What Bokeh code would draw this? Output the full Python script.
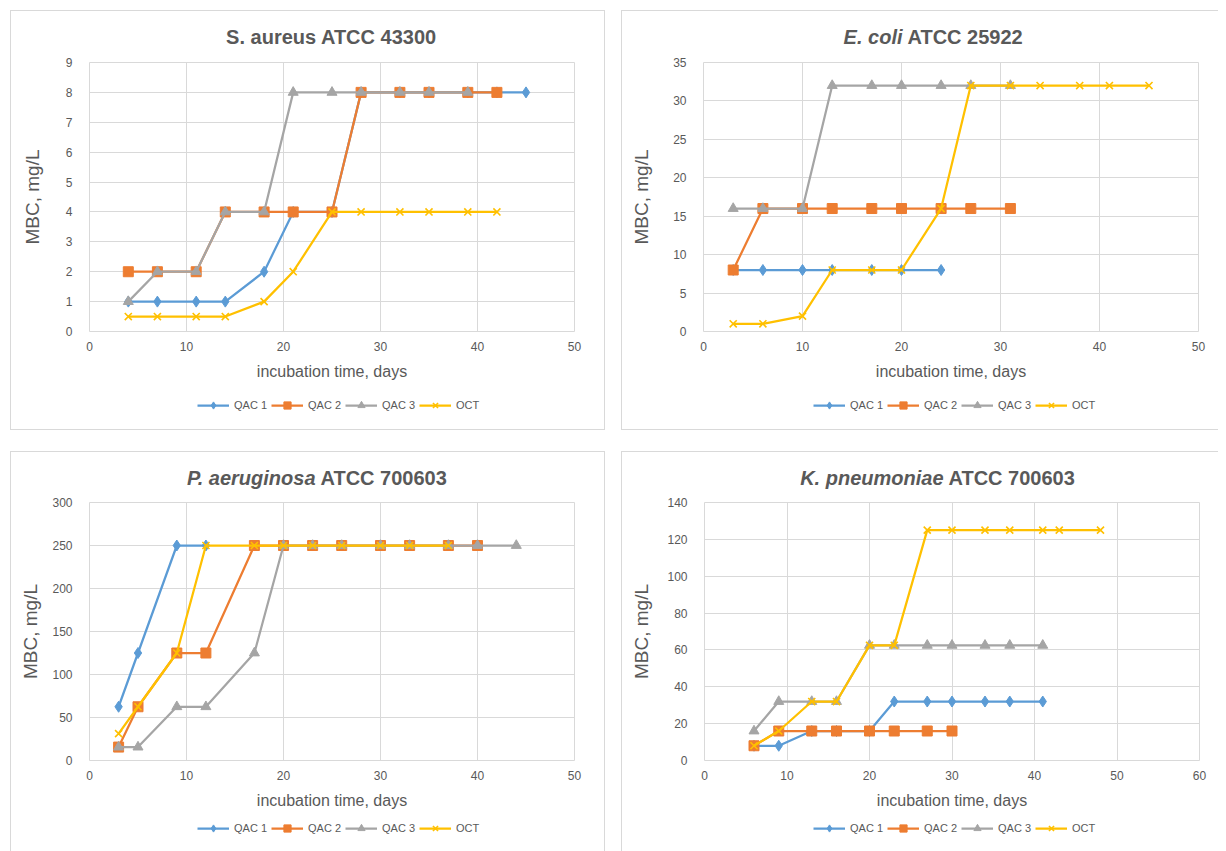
from bokeh.plotting import figure
from bokeh.models import Range1d, Legend, LegendItem, FixedTicker, Spacer
from bokeh.core.properties import value
from bokeh.layouts import row, column
from bokeh.embed import file_html
from bokeh.resources import INLINE

# ---------------- data ----------------
series_names = ["QAC 1", "QAC 2", "QAC 3", "OCT"]

# S. aureus ATCC 43300
sa_q1_days = [4, 7, 11, 14, 18, 21, 25, 28, 32, 35, 39, 42, 45]
sa_q1_mbc = [1, 1, 1, 1, 2, 4, 4, 8, 8, 8, 8, 8, 8]
sa_q2_days = [4, 7, 11, 14, 18, 21, 25, 28, 32, 35, 39, 42]
sa_q2_mbc = [2, 2, 2, 4, 4, 4, 4, 8, 8, 8, 8, 8]
sa_q3_days = [4, 7, 11, 14, 18, 21, 25, 28, 32, 35, 39]
sa_q3_mbc = [1, 2, 2, 4, 4, 8, 8, 8, 8, 8, 8]
sa_oct_days = [4, 7, 11, 14, 18, 21, 25, 28, 32, 35, 39, 42]
sa_oct_mbc = [0.5, 0.5, 0.5, 0.5, 1, 2, 4, 4, 4, 4, 4, 4]

# E. coli ATCC 25922
ec_q1_days = [3, 6, 10, 13, 17, 20, 24]
ec_q1_mbc = [8, 8, 8, 8, 8, 8, 8]
ec_q2_days = [3, 6, 10, 13, 17, 20, 24, 27, 31]
ec_q2_mbc = [8, 16, 16, 16, 16, 16, 16, 16, 16]
ec_q3_days = [3, 6, 10, 13, 17, 20, 24, 27, 31]
ec_q3_mbc = [16, 16, 16, 32, 32, 32, 32, 32, 32]
ec_oct_days = [3, 6, 10, 13, 17, 20, 24, 27, 31, 34, 38, 41, 45]
ec_oct_mbc = [1, 1, 2, 8, 8, 8, 16, 32, 32, 32, 32, 32, 32]

# P. aeruginosa ATCC 700603
pa_q1_days = [3, 5, 9, 12]
pa_q1_mbc = [62.5, 125, 250, 250]
pa_q2_days = [3, 5, 9, 12, 17, 20, 23, 26, 30, 33, 37, 40]
pa_q2_mbc = [15.6, 62.5, 125, 125, 250, 250, 250, 250, 250, 250, 250, 250]
pa_q3_days = [3, 5, 9, 12, 17, 20, 23, 26, 30, 33, 37, 40, 44]
pa_q3_mbc = [15.6, 15.6, 62.5, 62.5, 125, 250, 250, 250, 250, 250, 250, 250, 250]
pa_oct_days = [3, 5, 9, 12, 17, 20, 23, 26, 30, 33, 37]
pa_oct_mbc = [31.25, 62.5, 125, 250, 250, 250, 250, 250, 250, 250, 250]

# K. pneumoniae ATCC 700603
kp_q1_days = [6, 9, 13, 16, 20, 23, 27, 30, 34, 37, 41]
kp_q1_mbc = [8, 8, 16, 16, 16, 32, 32, 32, 32, 32, 32]
kp_q2_days = [6, 9, 13, 16, 20, 23, 27, 30]
kp_q2_mbc = [8, 16, 16, 16, 16, 16, 16, 16]
kp_q3_days = [6, 9, 13, 16, 20, 23, 27, 30, 34, 37, 41]
kp_q3_mbc = [16, 32, 32, 32, 62.5, 62.5, 62.5, 62.5, 62.5, 62.5, 62.5]
kp_oct_days = [6, 9, 13, 16, 20, 23, 27, 30, 34, 37, 41, 43, 48]
kp_oct_mbc = [8, 16, 32, 32, 62.5, 62.5, 125, 125, 125, 125, 125, 125, 125]

sa_x_ticks = [0, 10, 20, 30, 40, 50]
sa_y_ticks = [0, 1, 2, 3, 4, 5, 6, 7, 8, 9]
ec_x_ticks = [0, 10, 20, 30, 40, 50]
ec_y_ticks = [0, 5, 10, 15, 20, 25, 30, 35]
pa_x_ticks = [0, 10, 20, 30, 40, 50]
pa_y_ticks = [0, 50, 100, 150, 200, 250, 300]
kp_x_ticks = [0, 10, 20, 30, 40, 50, 60]
kp_y_ticks = [0, 20, 40, 60, 80, 100, 120, 140]

# ---------------- style ----------------
COLORS = ["#5B9BD5", "#ED7D31", "#A5A5A5", "#FFC000"]
MARKERS = ["diamond", "square", "triangle", "x"]
MSIZE = [11, 10, 10, 10]
GRID = "#D9D9D9"
TXT = "#595959"
FONT = "Liberation Sans"
BL = "1px solid #D9D9D9"
NAN = float("nan")


def css(top=False, left=False, right=False, bottom=False):
    s = {"box-sizing": "border-box"}
    if top:
        s["border-top"] = BL
    if left:
        s["border-left"] = BL
    if right:
        s["border-right"] = BL
    if bottom:
        s["border-bottom"] = BL
    return s


def blank_fig(w, h, fw, styles):
    # frame of this strip is aligned by the column with the chart frame,
    # so x data units here are pixels measured from the chart's left frame edge
    f = figure(width=w, height=h, output_backend="svg", toolbar_location=None,
               x_range=Range1d(0, fw), y_range=Range1d(h, 0),
               x_axis_location=None, y_axis_location=None,
               min_border=0, min_border_left=0, min_border_right=0,
               min_border_top=0, min_border_bottom=0)
    f.grid.visible = False
    f.outline_line_color = None
    f.background_fill_color = "white"
    f.border_fill_color = "white"
    f.styles = styles
    return f


def add_glyphs(p, xs, ys, i):
    c = COLORS[i]
    lr = p.line(xs, ys, line_color=c, line_width=2.25)
    if MARKERS[i] == "x":
        sr = p.scatter(xs, ys, marker="x", size=MSIZE[i], line_color=c,
                       line_width=1.6)
    else:
        sr = p.scatter(xs, ys, marker=MARKERS[i], size=MSIZE[i],
                       fill_color=c, line_color=c, line_width=1)
    return lr, sr


def make_panel(width, height, title_h, fl, fw, fh, main_bottom, xticks, yticks,
               data, title_parts, tx, ylab_standoff, legend_x, legend_cy,
               border_right, border_bottom):
    main_top = 12
    main_h = main_top + fh + main_bottom
    leg_h = height - title_h - main_h

    # ---- title strip ----
    t = blank_fig(width, title_h, fw, css(top=True, left=True, right=border_right))
    ty = 25
    if len(title_parts) == 1:
        t.text(x=[tx], y=[ty], text=[title_parts[0]], text_align="center",
               text_baseline="middle", text_font=value(FONT),
               text_font_size="20px", text_font_style="bold", text_color=TXT)
    else:
        t.text(x=[tx - 2], y=[ty], text=[title_parts[0]], text_align="right",
               text_baseline="middle", text_font=value(FONT),
               text_font_size="20px", text_font_style="bold italic",
               text_color=TXT)
        t.text(x=[tx + 3], y=[ty], text=[title_parts[1]], text_align="left",
               text_baseline="middle", text_font=value(FONT),
               text_font_size="20px", text_font_style="bold", text_color=TXT)

    # ---- main chart ----
    p = figure(width=width, height=main_h, output_backend="svg",
               toolbar_location=None,
               x_range=Range1d(xticks[0], xticks[-1]),
               y_range=Range1d(yticks[0], yticks[-1]),
               min_border_left=fl, min_border_right=width - fl - fw,
               min_border_top=main_top, min_border_bottom=main_bottom)
    p.styles = css(left=True, right=border_right)
    p.outline_line_color = GRID
    p.background_fill_color = "white"
    p.border_fill_color = "white"
    for ax, ticks in ((p.xaxis, xticks), (p.yaxis, yticks)):
        ax.ticker = FixedTicker(ticks=ticks)
        ax.axis_line_color = None
        ax.major_tick_line_color = None
        ax.minor_tick_line_color = None
        ax.major_label_text_font = FONT
        ax.major_label_text_font_size = "12px"
        ax.major_label_text_color = TXT
        ax.axis_label_text_font = FONT
        ax.axis_label_text_font_style = "normal"
        ax.axis_label_text_color = TXT
    p.xaxis.axis_label = "incubation time, days"
    p.xaxis.axis_label_text_font_size = "16px"
    p.xaxis.major_label_standoff = 4
    p.xaxis.axis_label_standoff = 9
    p.yaxis.axis_label = "MBC, mg/L"
    p.yaxis.axis_label_text_font_size = "19px"
    p.yaxis.major_label_standoff = 11
    p.yaxis.axis_label_standoff = ylab_standoff
    p.xgrid.grid_line_color = GRID
    p.ygrid.grid_line_color = GRID
    for i, (xs, ys) in enumerate(data):
        add_glyphs(p, xs, ys, i)

    # ---- legend strip ----
    lg = blank_fig(width, leg_h, fw, css(left=True, right=border_right,
                                         bottom=border_bottom))
    items = []
    for i in range(len(series_names)):
        lr, sr = add_glyphs(lg, [NAN], [NAN], i)
        items.append(LegendItem(label=series_names[i], renderers=[lr, sr]))
    leg = Legend(items=items, orientation="horizontal",
                 location=(legend_x, leg_h - legend_cy - 9),
                 label_text_font=FONT, label_text_font_size="11px",
                 label_text_color=TXT, glyph_width=32, glyph_height=18,
                 label_standoff=5, spacing=4, padding=0, margin=0,
                 border_line_color=None, background_fill_alpha=0)
    lg.add_layout(leg, "center")

    return column(t, p, lg)


c1 = make_panel(595, 420, 40, 78, 485, 269, 56, sa_x_ticks, sa_y_ticks,
                [(sa_q1_days, sa_q1_mbc), (sa_q2_days, sa_q2_mbc),
                 (sa_q3_days, sa_q3_mbc), (sa_oct_days, sa_oct_mbc)],
                ["S. aureus ATCC 43300"], 242, 20, 108, 18, True, True)
c2 = make_panel(597, 420, 40, 81, 495, 269, 56, ec_x_ticks, ec_y_ticks,
                [(ec_q1_days, ec_q1_mbc), (ec_q2_days, ec_q2_mbc),
                 (ec_q3_days, ec_q3_mbc), (ec_oct_days, ec_oct_mbc)],
                ["E. coli", "ATCC 25922"], 201, 18, 110, 18, False, True)
c3 = make_panel(595, 400, 39, 78, 485, 258, 52, pa_x_ticks, pa_y_ticks,
                [(pa_q1_days, pa_q1_mbc), (pa_q2_days, pa_q2_mbc),
                 (pa_q3_days, pa_q3_mbc), (pa_oct_days, pa_oct_mbc)],
                ["P. aeruginosa", "ATCC 700603"], 228, 8, 108, 16, True, False)
c4 = make_panel(597, 400, 39, 82, 495, 258, 52, kp_x_ticks, kp_y_ticks,
                [(kp_q1_days, kp_q1_mbc), (kp_q2_days, kp_q2_mbc),
                 (kp_q3_days, kp_q3_mbc), (kp_oct_days, kp_oct_mbc)],
                ["K. pneumoniae", "ATCC 700603"], 241, 12, 109, 16, False, False)

layout = column(
    Spacer(height=10),
    row(Spacer(width=10), c1, Spacer(width=16), c2),
    Spacer(height=21),
    row(Spacer(width=10), c3, Spacer(width=16), c4),
)

with open("out.html", "w") as f:
    f.write(file_html(layout, INLINE))
